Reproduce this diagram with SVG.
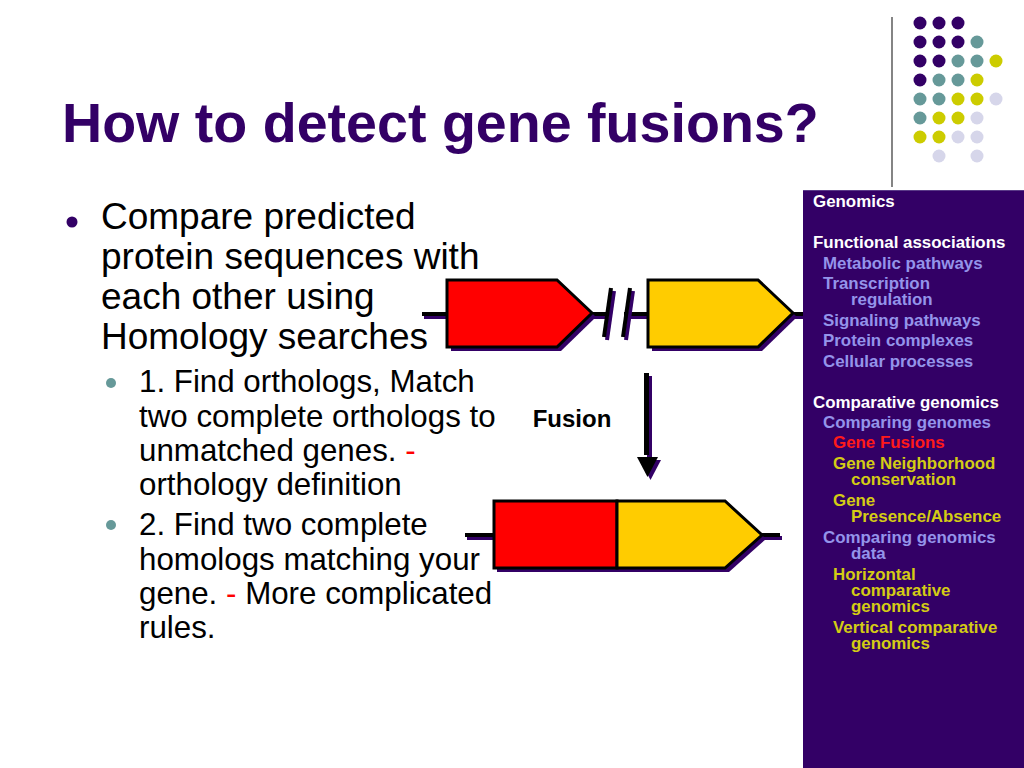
<svg xmlns="http://www.w3.org/2000/svg" width="1024" height="768" viewBox="0 0 1024 768">
<style>
.t{font-family:"Liberation Sans",Arial,sans-serif}
.title{font-size:55.6px;font-weight:bold;fill:#330066}
.main{font-size:37px;fill:#000}
.sub{font-size:31.3px;fill:#000}
.side{font-size:16.9px;font-weight:bold}
.w{fill:#fff}.b{fill:#9494ea}.r{fill:#ff1a1a}.y{fill:#d4cc14}
.gene{stroke:#000;stroke-width:3;stroke-linejoin:miter}
.sh{fill:#330066}
.wire{stroke:#000;stroke-width:4}
.wsh{stroke:#330066;stroke-width:4}
.dp{fill:#330066}.dt{fill:#669999}.dy{fill:#cccc00}.dl{fill:#d6d6ea}
</style>
<rect width="1024" height="768" fill="#fff"/>
<g id="decor">
<line x1="892" y1="17" x2="892" y2="187" stroke="#333" stroke-width="1.2"/>
<circle class="dp" cx="920" cy="23" r="6.5"/><circle class="dp" cx="939" cy="23" r="6.5"/><circle class="dp" cx="958" cy="23" r="6.5"/>
<circle class="dp" cx="920" cy="42" r="6.5"/><circle class="dp" cx="939" cy="42" r="6.5"/><circle class="dp" cx="958" cy="42" r="6.5"/><circle class="dt" cx="977" cy="42" r="6.5"/>
<circle class="dp" cx="920" cy="61" r="6.5"/><circle class="dp" cx="939" cy="61" r="6.5"/><circle class="dt" cx="958" cy="61" r="6.5"/><circle class="dt" cx="977" cy="61" r="6.5"/><circle class="dy" cx="996" cy="61" r="6.5"/>
<circle class="dp" cx="920" cy="80" r="6.5"/><circle class="dt" cx="939" cy="80" r="6.5"/><circle class="dt" cx="958" cy="80" r="6.5"/><circle class="dy" cx="977" cy="80" r="6.5"/>
<circle class="dt" cx="920" cy="99" r="6.5"/><circle class="dt" cx="939" cy="99" r="6.5"/><circle class="dy" cx="958" cy="99" r="6.5"/><circle class="dy" cx="977" cy="99" r="6.5"/><circle class="dl" cx="996" cy="99" r="6.5"/>
<circle class="dt" cx="920" cy="118" r="6.5"/><circle class="dy" cx="939" cy="118" r="6.5"/><circle class="dy" cx="958" cy="118" r="6.5"/><circle class="dl" cx="977" cy="118" r="6.5"/>
<circle class="dy" cx="920" cy="137" r="6.5"/><circle class="dy" cx="939" cy="137" r="6.5"/><circle class="dl" cx="958" cy="137" r="6.5"/><circle class="dl" cx="977" cy="137" r="6.5"/>
<circle class="dl" cx="939" cy="156" r="6.5"/><circle class="dl" cx="977" cy="156" r="6.5"/>
</g>
<text class="t title" x="62" y="142">How to detect gene fusions?</text>
<g id="bullets">
<circle cx="72" cy="222" r="5.5" fill="#330066"/>
<text class="t main" x="101" y="229">Compare predicted</text>
<text class="t main" x="101" y="269">protein sequences with</text>
<text class="t main" x="101" y="309">each other using</text>
<text class="t main" x="101" y="349">Homology searches</text>
<circle cx="111" cy="383" r="5" fill="#669999"/>
<text class="t sub" x="139" y="392">1. Find orthologs, Match</text>
<text class="t sub" x="139" y="427">two complete orthologs to</text>
<text class="t sub" x="139" y="461">unmatched genes. <tspan fill="#ff0000">-</tspan></text>
<text class="t sub" x="139" y="495">orthology definition</text>
<circle cx="111" cy="525" r="5" fill="#669999"/>
<text class="t sub" x="139" y="535">2. Find two complete</text>
<text class="t sub" x="139" y="570">homologs matching your</text>
<text class="t sub" x="139" y="604">gene. <tspan fill="#ff0000">-</tspan> More complicated</text>
<text class="t sub" x="139" y="638">rules.</text>
</g>
<g id="connectors">
<line class="wsh" x1="424" y1="317" x2="449" y2="317"/>
<line class="wire" x1="422" y1="314" x2="447" y2="314"/>
<line class="wsh" x1="594" y1="317" x2="607" y2="317"/>
<line class="wire" x1="592" y1="314" x2="606" y2="314"/>
<line class="wsh" x1="626" y1="317" x2="651" y2="317"/>
<line class="wire" x1="624" y1="314" x2="649" y2="314"/>
<line class="wsh" x1="795" y1="317" x2="803" y2="317"/>
<line class="wire" x1="793" y1="314" x2="803" y2="314"/>
<line x1="614" y1="291" x2="607" y2="340" stroke="#330066" stroke-width="4"/>
<line x1="611" y1="288" x2="604" y2="337" stroke="#000" stroke-width="4"/>
<line x1="633" y1="291" x2="626" y2="340" stroke="#330066" stroke-width="4"/>
<line x1="630" y1="288" x2="623" y2="337" stroke="#000" stroke-width="4"/>
<g id="fusion-arrow">
<rect x="647" y="376" width="5" height="82" class="sh"/>
<polygon points="640,460 661,460 650.5,480" class="sh"/>
<rect x="644" y="373" width="5" height="82" fill="#000"/>
<polygon points="637,457 658,457 647.5,477" fill="#000"/>
</g>
<line class="wsh" x1="467" y1="538" x2="495" y2="538"/>
<line class="wire" x1="465" y1="535" x2="493" y2="535"/>
<line class="wsh" x1="764" y1="538" x2="782" y2="538"/>
<line class="wire" x1="762" y1="535" x2="780" y2="535"/>
</g>
<text class="t" x="572" y="427" text-anchor="middle" font-size="24" font-weight="bold">Fusion</text>
<g id="gene-red">
<polygon class="sh" points="451,284 561,284 596,317 561,351 451,351"/>
<polygon class="gene" fill="#ff0000" points="447,280 557,280 592,313 557,347 447,347"/>
</g>
<g id="gene-yellow">
<polygon class="sh" points="652,284 762,284 797,317 762,351 652,351"/>
<polygon class="gene" fill="#ffcc00" points="648,280 758,280 793,313 758,347 648,347"/>
</g>
<g id="gene-fused">
<polygon class="sh" points="497,505 729,505 766,539 729,572 497,572"/>
<rect class="gene" fill="#ff0000" x="494" y="501" width="123" height="67"/>
<polygon class="gene" fill="#ffcc00" points="617,501 725,501 762,535 725,568 617,568"/>
</g>
<g id="sidebar">
<rect x="803" y="190" width="221" height="578" fill="#330066"/>
<line x1="803" y1="190.5" x2="1024" y2="190.5" stroke="#5a3a88" stroke-width="1"/>
<text class="t side w" x="813" y="207">Genomics</text>
<text class="t side w" x="813" y="248">Functional associations</text>
<text class="t side b" x="823" y="269">Metabolic pathways</text>
<text class="t side b" x="823" y="289">Transcription</text>
<text class="t side b" x="851" y="305">regulation</text>
<text class="t side b" x="823" y="326">Signaling pathways</text>
<text class="t side b" x="823" y="346">Protein complexes</text>
<text class="t side b" x="823" y="367">Cellular processes</text>
<text class="t side w" x="813" y="408">Comparative genomics</text>
<text class="t side b" x="823" y="428">Comparing genomes</text>
<text class="t side r" x="833" y="448">Gene Fusions</text>
<text class="t side y" x="833" y="469">Gene Neighborhood</text>
<text class="t side y" x="851" y="485">conservation</text>
<text class="t side y" x="833" y="506">Gene</text>
<text class="t side y" x="851" y="522">Presence/Absence</text>
<text class="t side b" x="823" y="543">Comparing genomics</text>
<text class="t side b" x="851" y="559">data</text>
<text class="t side y" x="833" y="580">Horizontal</text>
<text class="t side y" x="851" y="596">comparative</text>
<text class="t side y" x="851" y="612">genomics</text>
<text class="t side y" x="833" y="633">Vertical comparative</text>
<text class="t side y" x="851" y="649">genomics</text>
</g>
</svg>
